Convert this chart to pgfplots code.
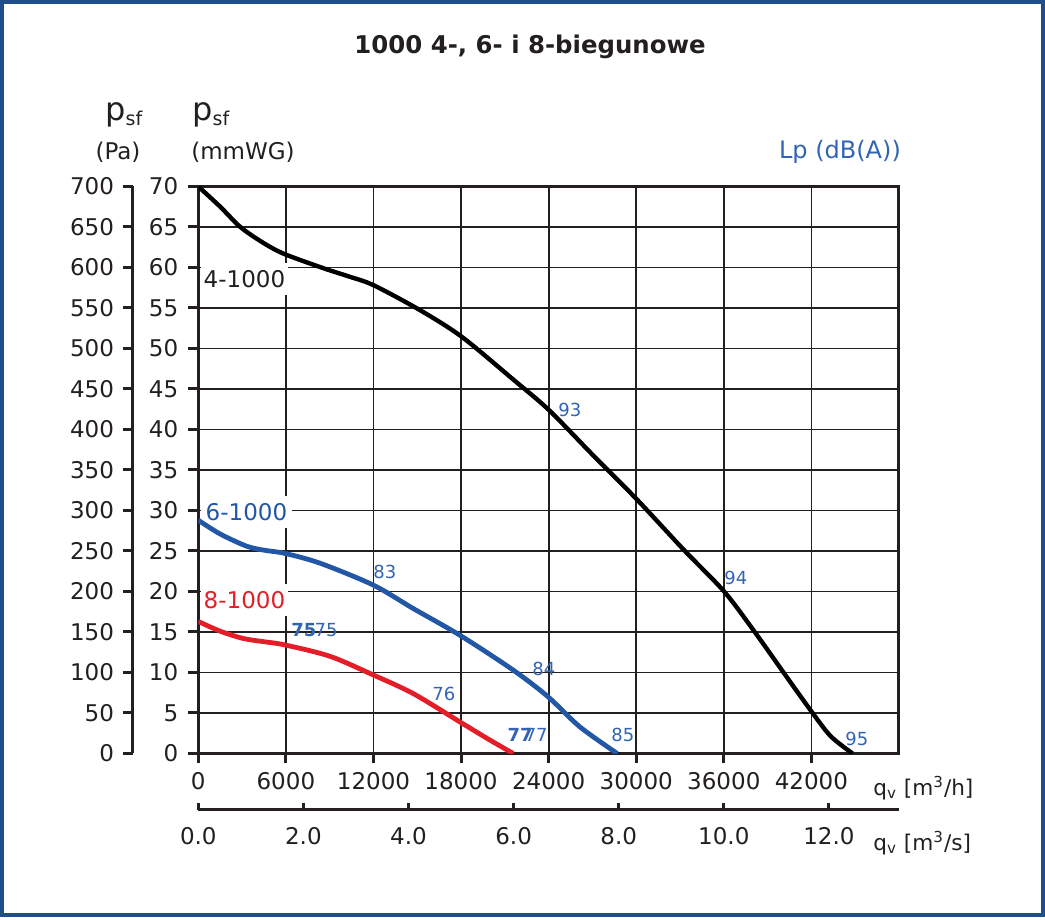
\documentclass[border=0pt]{standalone}
\usepackage{fontspec}
\setmainfont{DejaVu Sans}
\usepackage{pgfplots}
\pgfplotsset{compat=1.18}
\definecolor{bframe}{RGB}{30,78,140}
\definecolor{cblue}{RGB}{33,87,166}
\definecolor{tblue}{RGB}{50,100,180}
\definecolor{cred}{RGB}{228,30,40}
\definecolor{ink}{RGB}{35,31,32}
\newcommand{\tk}{\fontsize{11.5}{13}\selectfont}
\newcommand{\an}{\fontsize{9}{10}\selectfont}

\pgfplotstableread{
x y
0 70
1500 67.5
2880 65.0
4400 63.1
5850 61.7
8590 59.9
10300 58.9
12020 57.8
15220 54.7
18080 51.4
21620 46.1
24020 42.4
27000 36.9
30080 31.3
33280 25.1
36020 20.0
38080 15.1
40130 9.9
42080 5.0
43340 2.1
44820 0
}\blackcurve

\pgfplotstableread{
x y
0 28.8
1500 27.1
3300 25.6
4500 25.1
5940 24.7
8330 23.5
11980 20.8
14720 17.9
17920 14.6
21570 10.3
23960 7.0
26130 3.3
28700 0
}\bluecurve

\pgfplotstableread{
x y
0 16.3
1500 15.1
3080 14.2
4500 13.8
5940 13.4
9020 12.0
11980 9.7
14720 7.4
17920 3.9
19750 1.9
21570 0
}\redcurve

\begin{document}
\begin{tikzpicture}
% main axis (m3/h vs mmWG)
\begin{axis}[
 at={(0pt,0pt)}, anchor=south west,
 scale only axis, width=350.35pt, height=283.5pt,
 xmin=0, xmax=48000, ymin=0, ymax=70,
 xtick={0,6000,...,42000}, ytick={0,5,...,70},
 xtick pos=bottom, ytick pos=left, tick align=outside,
 major tick length=5pt,
 grid=major, major grid style={ink, line width=0.9pt},
 axis line style={ink, line width=1.5pt},
 tick style={ink, line width=1.5pt},
 scaled x ticks=false,
 /pgf/number format/1000 sep={},
 /pgf/number format/assume math mode=true,
 tick label style={font=\tk, text=ink},
 yticklabel style={xshift=-1.5pt},
 xticklabel style={yshift=-1pt},
]
\node[fill=white, anchor=west, inner xsep=1.5pt, inner ysep=3.5pt, font=\tk, text=ink] at (axis cs:140,58.6) {4-1000};
\node[fill=white, anchor=west, inner xsep=2.5pt, inner ysep=3.5pt, font=\tk, text=cblue] at (axis cs:140,29.8) {6-1000};
\node[fill=white, anchor=west, inner xsep=1.5pt, inner ysep=3.5pt, font=\tk, text=cred] at (axis cs:140,18.95) {8-1000};

\addplot[black, line width=2.2pt, smooth] table[x=x,y=y] {\blackcurve};
\addplot[cblue, line width=2.4pt, smooth] table[x=x,y=y] {\bluecurve};
\addplot[cred, line width=2.4pt, smooth] table[x=x,y=y] {\redcurve};

\node[font=\an, text=tblue] at (axis cs:25450,42.4) {93};
\node[font=\an, text=tblue] at (axis cs:36820,21.7) {94};
\node[font=\an, text=tblue] at (axis cs:45110,1.8) {95};
\node[font=\an, text=tblue] at (axis cs:12780,22.4) {83};
\node[font=\an, text=tblue] at (axis cs:23670,10.4) {84};
\node[font=\an, text=tblue] at (axis cs:29080,2.3) {85};
\node[font=\an\bfseries, text=tblue] at (axis cs:7240,15.2) {75};
\node[font=\an, text=tblue] at (axis cs:8750,15.2) {75};
\node[font=\an, text=tblue] at (axis cs:16820,7.35) {76};
\node[font=\an\bfseries, text=tblue] at (axis cs:22050,2.3) {77};
\node[font=\an, text=tblue] at (axis cs:23150,2.3) {77};
\end{axis}

% Pa axis
\begin{axis}[
 at={(-32.65pt,0pt)}, anchor=south west,
 scale only axis, width=10pt, height=283.5pt,
 xmin=0, xmax=1, ymin=0, ymax=700,
 axis x line=none, axis y line*=left,
 ytick={0,50,...,700}, tick align=outside, major tick length=5pt,
 axis line style={ink, line width=1.5pt},
 tick style={ink, line width=1.5pt},
 /pgf/number format/assume math mode=true,
 tick label style={font=\tk, text=ink},
 yticklabel style={xshift=-1pt},
]
\addplot[draw=none] coordinates {(0,0)};
\end{axis}

% m3/s axis
\begin{axis}[
 at={(0pt,-28.25pt)}, anchor=south west,
 scale only axis, width=350.35pt, height=10pt,
 xmin=0, xmax=13.3333, ymin=0, ymax=1,
 axis y line=none, axis x line*=bottom,
 xtick={0,2,...,12}, tick align=inside, major tick length=3.5pt,
 axis line style={ink, line width=1.5pt},
 tick style={ink, line width=1.5pt},
 /pgf/number format/fixed, /pgf/number format/fixed zerofill,
 /pgf/number format/precision=1,
 /pgf/number format/assume math mode=true,
 tick label style={font=\tk, text=ink},
 xticklabel style={yshift=-5pt},
]
\addplot[draw=none] coordinates {(0,0)};
\end{axis}

% texts
\node[font=\fontsize{12.2}{14}\selectfont\bfseries, text=ink] at (165.85pt,353.25pt) {1000 4-, 6- i 8-biegunowe};
\node[anchor=base west, text=ink, inner sep=0pt] at (-46.65pt,316.5pt) {\fontsize{16}{16}\selectfont p\fontsize{9.5}{9.5}\selectfont\raisebox{-2.5pt}{sf}};
\node[anchor=base west, text=ink, inner sep=0pt] at (-3.15pt,316.5pt) {\fontsize{16}{16}\selectfont p\fontsize{9.5}{9.5}\selectfont\raisebox{-2.5pt}{sf}};
\node[font=\tk, text=ink] at (-40.15pt,300.75pt) {(Pa)};
\node[font=\tk, text=ink] at (22.35pt,300.75pt) {(mmWG)};
\node[font=\fontsize{12}{14}\selectfont, text=tblue, anchor=east, inner sep=0pt] at (351.5pt,300.75pt) {Lp (dB(A))};
\node[font=\fontsize{10.8}{12}\selectfont, text=ink, anchor=west, inner sep=0pt] at (337.35pt,-17.25pt) {q\textsubscript{v} [m\textsuperscript{3}/h]};
\node[font=\fontsize{10.8}{12}\selectfont, text=ink, anchor=west, inner sep=0pt] at (337.35pt,-44.75pt) {q\textsubscript{v} [m\textsuperscript{3}/s]};

\draw[bframe, line width=2pt] (-97.9pt,-81pt) rectangle (422.1pt,375.5pt);
\pgfresetboundingbox
\path[use as bounding box] (-99.15pt,-83.25pt) rectangle (423.35pt,376.75pt);
\end{tikzpicture}
\end{document}
